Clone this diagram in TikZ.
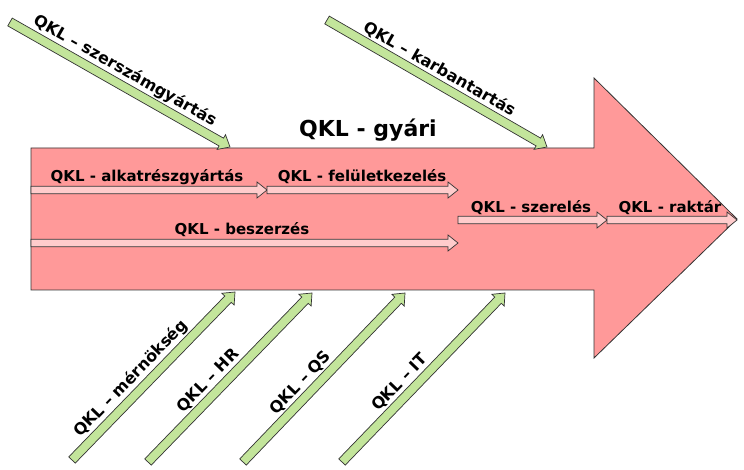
\documentclass[tikz,border=0pt]{standalone}
\usepackage{fontspec}
\setmainfont{DejaVu Sans}
\usetikzlibrary{calc}
\definecolor{bigpink}{HTML}{FF9999}
\definecolor{lightpink}{HTML}{FFCCCC}
\definecolor{lgreen}{HTML}{C3E59B}
\definecolor{edge}{HTML}{333333}
\newcommand\fatarrow[5]{% style, start, end, half shaft, half head
  \coordinate (faS) at (#2);
  \coordinate (faE) at (#3);
  \coordinate (faH) at ($(faE)!10pt!(faS)$);
  \filldraw[#1] ($(faS)!#4!90:(faE)$) -- ($(faH)!#4!-90:(faS)$) -- ($(faH)!#5!-90:(faS)$) -- (faE)
    -- ($(faH)!#5!90:(faS)$) -- ($(faH)!#4!90:(faS)$) -- ($(faS)!#4!-90:(faE)$) -- cycle;
}
\tikzset{
  greenarrow/.style={fill=lgreen, draw=edge, line width=0.7pt, line join=miter},
  pinkarrow/.style={fill=lightpink, draw=edge, line width=0.7pt, line join=miter},
  lbl/.style={font=\bfseries\fontsize{15}{17}\selectfont, text=black, inner sep=1pt},
  rlbl/.style={font=\bfseries\fontsize{16}{18}\selectfont, text=black, inner sep=1pt, sloped, above=5pt},
}
\begin{document}
\begin{tikzpicture}[x=1pt,y=-1pt]
\useasboundingbox (0,0) rectangle (744,470);
% big arrow
\filldraw[fill=bigpink, draw=edge, line width=0.8pt]
  (31,148) -- (594,148) -- (594,78) -- (737,219) -- (594,358) -- (594,290) -- (31,290) -- cycle;
\node[font=\bfseries\fontsize{22}{26}\selectfont] (title) at (368,130) {QKL - gyári};
% small pink arrows
\coordinate (a0) at (31,190); \coordinate (a1) at (267,190); \coordinate (a2) at (458,190);
\coordinate (b0) at (31,243); \coordinate (b1) at (458,243);
\coordinate (c0) at (458,220); \coordinate (c1) at (607,220); \coordinate (c2) at (737,220);
\fatarrow{pinkarrow}{a0}{a1}{3.8pt}{8pt}
\fatarrow{pinkarrow}{a1}{a2}{3.8pt}{8pt}
\fatarrow{pinkarrow}{b0}{b1}{3.8pt}{8pt}
\fatarrow{pinkarrow}{c0}{c1}{3.8pt}{8pt}
\fatarrow{pinkarrow}{c1}{c2}{3.8pt}{8pt}
\node[lbl] (alk) at (147,177) {QKL - alkatrészgyártás};
\node[lbl] (fel) at (362,177) {QKL - felületkezelés};
\node[lbl] (besz) at (242,230) {QKL - beszerzés};
\node[lbl] (szer) at (531,208) {QKL - szerelés};
\node[lbl] (rakt) at (670,208) {QKL - raktár};
% green arrows
\coordinate (g1s) at (10,22);  \coordinate (g1e) at (230,147);
\coordinate (g2s) at (327,20); \coordinate (g2e) at (547,147);
\coordinate (g3s) at (72,460); \coordinate (g3e) at (235,292);
\coordinate (g4s) at (148,462); \coordinate (g4e) at (312,293);
\coordinate (g5s) at (243,462); \coordinate (g5e) at (405,293);
\coordinate (g6s) at (342,462); \coordinate (g6e) at (505,293);
\foreach \i in {1,...,6}{\fatarrow{greenarrow}{g\i s}{g\i e}{4.5pt}{8.5pt}}
\path (g1s) -- (g1e) node[rlbl, pos=0.49] (t1) {QKL – szerszámgyártás};
\path (g2s) -- (g2e) node[rlbl, pos=0.48] (t2) {QKL – karbantartás};
\path (g3s) -- (g3e) node[rlbl, pos=0.425] (t3) {QKL – mérnökség};
\path (g4s) -- (g4e) node[rlbl, pos=0.425] (t4) {QKL – HR};
\path (g5s) -- (g5e) node[rlbl, pos=0.415] (t5) {QKL – QS};
\path (g6s) -- (g6e) node[rlbl, pos=0.415] (t6) {QKL – IT};
\end{tikzpicture}
\end{document}
